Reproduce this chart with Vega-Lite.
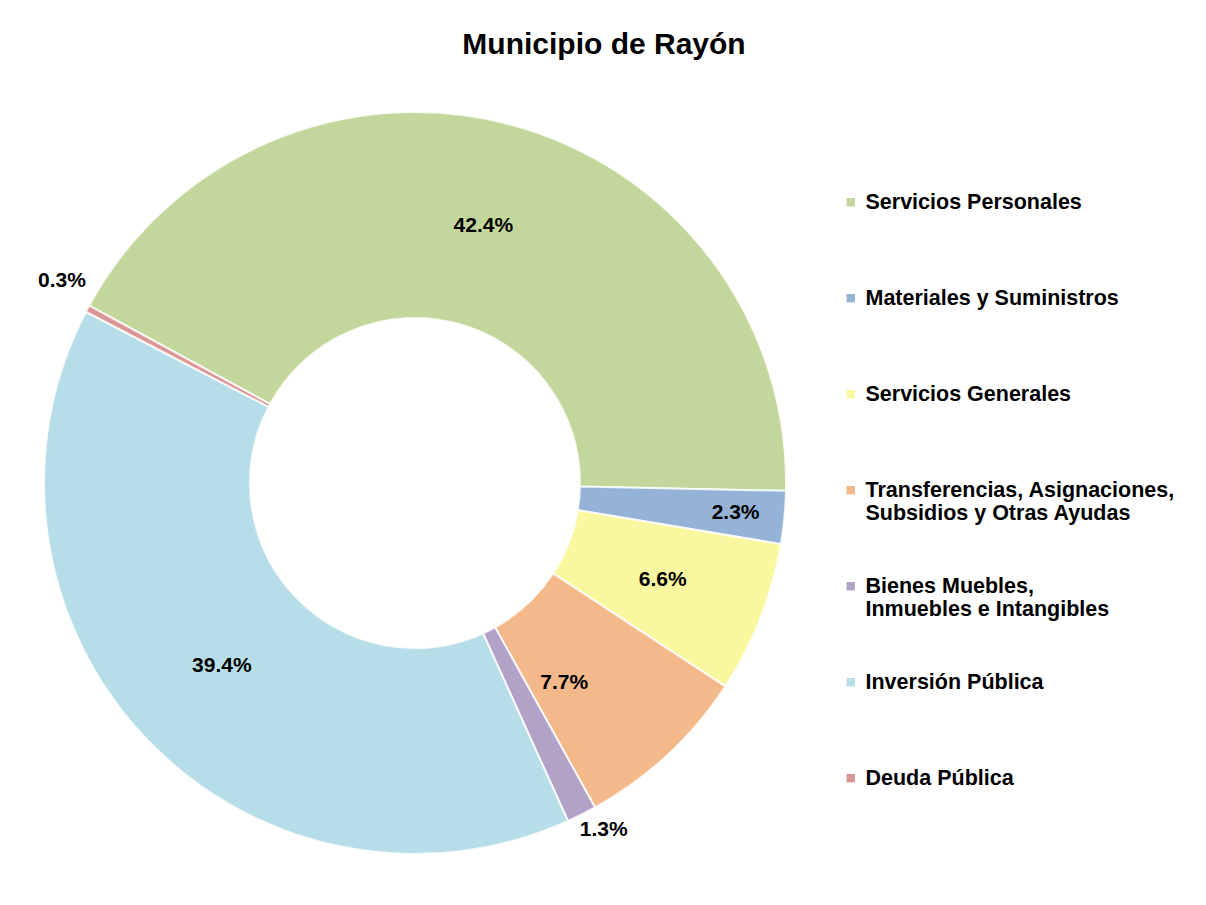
{
  "$schema": "https://vega.github.io/schema/vega-lite/v6.json",
  "width": 742,
  "height": 742,
  "autosize": {"type": "none"},
  "padding": {"left": 44, "top": 112, "right": 420, "bottom": 51},
  "background": "white",
  "title": {
    "text": "Municipio de Rayón",
    "font": "Liberation Sans",
    "fontSize": 30,
    "fontWeight": "bold",
    "color": "#000000",
    "anchor": "middle",
    "frame": "group",
    "dx": 189,
    "offset": 11
  },
  "data": {
    "values": [
      {"categoria": "Servicios Personales", "porcentaje": 0.424, "orden": 1},
      {"categoria": "Materiales y Suministros", "porcentaje": 0.023, "orden": 2},
      {"categoria": "Servicios Generales", "porcentaje": 0.066, "orden": 3},
      {"categoria": "Transferencias, Asignaciones, Subsidios y Otras Ayudas", "porcentaje": 0.077, "orden": 4},
      {"categoria": "Bienes Muebles, Inmuebles e Intangibles", "porcentaje": 0.013, "orden": 5},
      {"categoria": "Inversión Pública", "porcentaje": 0.394, "orden": 6},
      {"categoria": "Deuda Pública", "porcentaje": 0.003, "orden": 7}
    ]
  },
  "encoding": {
    "theta": {
      "field": "porcentaje",
      "type": "quantitative",
      "stack": true,
      "scale": {"range": [-1.072, 5.211]}
    },
    "order": {"field": "orden", "type": "quantitative", "sort": "ascending"}
  },
  "layer": [
    {
      "mark": {"type": "arc", "innerRadius": 165, "outerRadius": 371, "stroke": "#ffffff", "strokeOpacity": 0.8, "strokeWidth": 2},
      "encoding": {
        "color": {
          "field": "categoria",
          "type": "nominal",
          "scale": {
            "domain": [
              "Servicios Personales",
              "Materiales y Suministros",
              "Servicios Generales",
              "Transferencias, Asignaciones, Subsidios y Otras Ayudas",
              "Bienes Muebles, Inmuebles e Intangibles",
              "Inversión Pública",
              "Deuda Pública"
            ],
            "range": ["#c3d69b", "#95b3d7", "#f9f8a0", "#f4b98b", "#b3a2c7", "#b7dde8", "#d99694"]
          },
          "legend": {
            "orient": "none",
            "legendX": 796,
            "legendY": 69,
            "title": null,
            "symbolType": "M-1,1.5H1V3.5H-1Z",
            "symbolSize": 70,
            "symbolStrokeWidth": 0,
            "labelFont": "Liberation Sans",
            "labelFontSize": 21.5,
            "labelFontWeight": "bold",
            "labelColor": "#000000",
            "labelLimit": 400,
            "labelOffset": 4,
            "labelBaseline": "top",
            "rowPadding": 40,
            "labelExpr": "datum.label == 'Transferencias, Asignaciones, Subsidios y Otras Ayudas' ? ['Transferencias, Asignaciones,', 'Subsidios y Otras Ayudas'] : datum.label == 'Bienes Muebles, Inmuebles e Intangibles' ? ['Bienes Muebles,', 'Inmuebles e Intangibles'] : [datum.label, ' ']"
          }
        }
      }
    },
    {
      "mark": {"type": "text", "radius": 266, "font": "Liberation Sans", "fontSize": 21, "fontWeight": "bold", "color": "#000000", "align": "center", "baseline": "middle"},
      "encoding": {
        "text": {"field": "porcentaje", "type": "quantitative", "format": ".1%"},
        "opacity": {
          "condition": {"test": "indexof(['Servicios Personales', 'Servicios Generales', 'Inversión Pública'], datum.categoria) >= 0", "value": 1},
          "value": 0
        }
      }
    },
    {
      "mark": {"type": "text", "radius": 250, "dx": -21, "dy": 17, "font": "Liberation Sans", "fontSize": 21, "fontWeight": "bold", "color": "#000000", "align": "center", "baseline": "middle"},
      "encoding": {
        "text": {"field": "porcentaje", "type": "quantitative", "format": ".1%"},
        "opacity": {
          "condition": {"test": "datum.categoria == 'Transferencias, Asignaciones, Subsidios y Otras Ayudas'", "value": 1},
          "value": 0
        }
      }
    },
    {
      "mark": {"type": "text", "radius": 322, "font": "Liberation Sans", "fontSize": 21, "fontWeight": "bold", "color": "#000000", "align": "center", "baseline": "middle"},
      "encoding": {
        "text": {"field": "porcentaje", "type": "quantitative", "format": ".1%"},
        "opacity": {
          "condition": {"test": "datum.categoria == 'Materiales y Suministros'", "value": 1},
          "value": 0
        }
      }
    },
    {
      "mark": {"type": "text", "radius": 400, "dy": -14, "font": "Liberation Sans", "fontSize": 21, "fontWeight": "bold", "color": "#000000", "align": "center", "baseline": "middle"},
      "encoding": {
        "text": {"field": "porcentaje", "type": "quantitative", "format": ".1%"},
        "opacity": {
          "condition": {"test": "datum.categoria == 'Deuda Pública'", "value": 1},
          "value": 0
        }
      }
    },
    {
      "mark": {"type": "text", "radius": 400, "dx": 9, "dy": -10, "font": "Liberation Sans", "fontSize": 21, "fontWeight": "bold", "color": "#000000", "align": "center", "baseline": "middle"},
      "encoding": {
        "text": {"field": "porcentaje", "type": "quantitative", "format": ".1%"},
        "opacity": {
          "condition": {"test": "datum.categoria == 'Bienes Muebles, Inmuebles e Intangibles'", "value": 1},
          "value": 0
        }
      }
    }
  ],
  "config": {"view": {"stroke": null}}
}
